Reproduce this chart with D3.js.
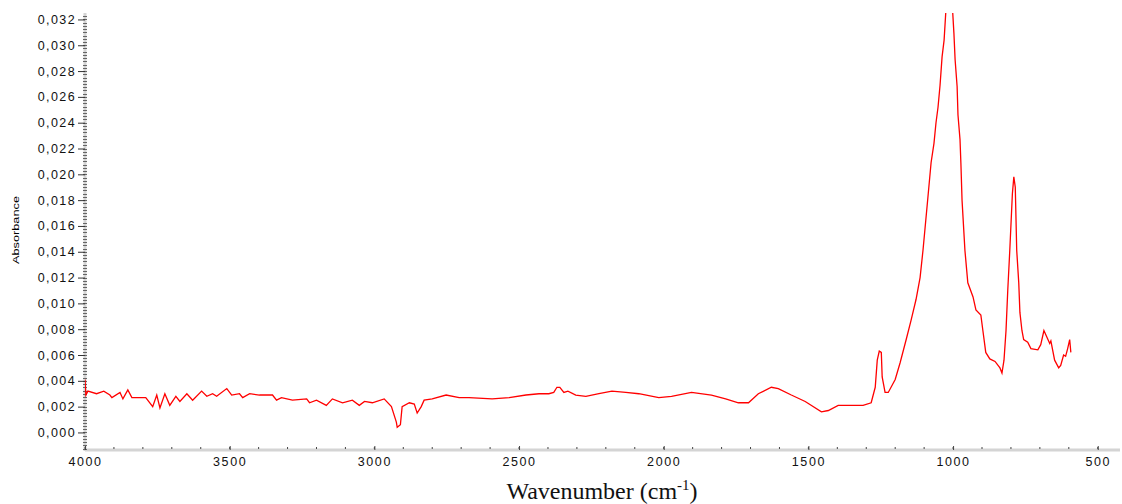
<!DOCTYPE html>
<html><head><meta charset="utf-8">
<script src="https://cdn.jsdelivr.net/npm/d3@7"></script>
<style>
body{margin:0;background:#fff;}
svg{display:block;}
</style></head>
<body><svg id="c" width="1122" height="504"></svg>
<script>
// Wavenumber (cm-1) and absorbance
const wavenumbers = [4000,3997,3990,3960,3935,3914,3907,3879,3869,3852,3838,3810,3790,3766,3752,3741,3724,3707,3686,3672,3648,3628,3597,3579,3559,3545,3510,3493,3466,3455,3431,3397,3352,3338,3321,3283,3234,3224,3200,3166,3145,3110,3076,3052,3034,3007,2966,2941,2924,2921,2910,2904,2879,2862,2852,2838,2828,2800,2752,2707,2673,2593,2534,2476,2431,2397,2380,2369,2359,2345,2331,2304,2269,2224,2179,2131,2086,2017,1973,1904,1835,1786,1742,1707,1673,1628,1604,1559,1511,1455,1431,1397,1338,1311,1283,1269,1262,1255,1248,1245,1235,1224,1200,1183,1162,1145,1128,1114,1104,1087,1076,1066,1059,1052,1045,1038,1031,1024,1015,1005,997,993,986,983,976,973,969,959,949,931,921,904,897,887,873,855,838,831,824,817,811,804,795,790,785,780,773,769,762,756,742,731,707,697,686,676,666,662,649,635,628,618,611,604,597,593];
const absorbance = [0.0041,0.0029,0.0032,0.0030,0.0032,0.0029,0.0027,0.0031,0.0026,0.0033,0.0027,0.0027,0.0027,0.0020,0.0029,0.0019,0.0030,0.0021,0.0028,0.0024,0.0030,0.0025,0.0032,0.0028,0.0030,0.0028,0.0034,0.0029,0.0030,0.0027,0.0030,0.0029,0.0029,0.0025,0.0027,0.0025,0.0026,0.0023,0.0025,0.0021,0.0026,0.0023,0.0025,0.0021,0.0024,0.0023,0.0026,0.0020,0.0008,0.0004,0.0006,0.0020,0.0023,0.0022,0.0015,0.0020,0.0025,0.0026,0.0029,0.0027,0.0027,0.0026,0.0027,0.0029,0.0030,0.0030,0.0031,0.0035,0.0035,0.0031,0.0032,0.0029,0.0028,0.0030,0.0032,0.0031,0.0030,0.0027,0.0028,0.0031,0.0029,0.0026,0.0023,0.0023,0.0030,0.0035,0.0034,0.0029,0.0024,0.0016,0.0017,0.0021,0.0021,0.0021,0.0023,0.0035,0.0056,0.0063,0.0062,0.0043,0.0031,0.0031,0.0041,0.0054,0.0072,0.0087,0.0103,0.0120,0.0141,0.0182,0.0209,0.0224,0.0240,0.0252,0.0269,0.0291,0.0304,0.0330,0.0360,0.0340,0.0309,0.0289,0.0268,0.0246,0.0227,0.0209,0.0180,0.0141,0.0116,0.0105,0.0095,0.0091,0.0079,0.0062,0.0057,0.0055,0.0050,0.0046,0.0056,0.0079,0.0110,0.0141,0.0185,0.0198,0.0190,0.0141,0.0116,0.0093,0.0079,0.0072,0.0070,0.0065,0.0064,0.0068,0.0079,0.0074,0.0069,0.0071,0.0056,0.0050,0.0052,0.0060,0.0059,0.0065,0.0072,0.0062];
const xTicks = [4000,3500,3000,2500,2000,1500,1000,500];
const yTicks = [0,0.002,0.004,0.006,0.008,0.010,0.012,0.014,0.016,0.018,0.020,0.022,0.024,0.026,0.028,0.030,0.032];

const svg = d3.select("#c");
const L = 85, R = 1118, T = 13, B = 450;
const x = d3.scaleLinear().domain([4000, 430]).range([L, R]);
const y = d3.scaleLinear().domain([-0.00136, 0.0325]).range([B, T]);
const fmt = v => d3.format(".3f")(v).replace(".", ",");

svg.append("defs").append("clipPath").attr("id","clip")
  .append("rect").attr("x",L).attr("y",T).attr("width",R-L).attr("height",B-T);

// axis lines (light grey)
svg.append("line").attr("x1",L).attr("x2",L).attr("y1",T).attr("y2",B+1)
  .attr("stroke","#d4d4d4").attr("stroke-width",3);
svg.append("line").attr("x1",L).attr("x2",R+2).attr("y1",B).attr("y2",B)
  .attr("stroke","#d4d4d4").attr("stroke-width",3);

// y minor ticks
const yMinor = d3.range(-0.00125, 0.0325, 0.00025);
svg.append("g").selectAll("line").data(yMinor).join("line")
  .attr("x1",L-2).attr("x2",L+2).attr("y1",d=>Math.round(y(d))+0.5).attr("y2",d=>Math.round(y(d))+0.5)
  .attr("stroke","#666").attr("stroke-width",1);

// y axis
const yAxis = d3.axisLeft(y).tickValues(yTicks).tickFormat(fmt).tickSize(7).tickPadding(2);
const gy = svg.append("g").attr("transform",`translate(${L},0)`).call(yAxis);
gy.select(".domain").remove();
gy.selectAll(".tick line").attr("stroke","#333");
gy.selectAll(".tick text").attr("font-family","Liberation Sans, Arial, sans-serif")
  .attr("font-size",12.5).attr("letter-spacing","1.4px").attr("fill","#111");

// x minor ticks
const xMinor = d3.range(4000, 430, -100);
svg.append("g").selectAll("line").data(xMinor).join("line")
  .attr("x1",d=>x(d)).attr("x2",d=>x(d)).attr("y1",B-3).attr("y2",B-1)
  .attr("stroke","#444").attr("stroke-width",1);

// x axis
const xAxis = d3.axisBottom(x).tickValues(xTicks).tickFormat(d3.format("d")).tickSize(3).tickPadding(4);
const gx = svg.append("g").attr("transform",`translate(0,${B})`).call(xAxis);
gx.select(".domain").remove();
gx.selectAll(".tick line").attr("stroke","#444").attr("y1",-4).attr("y2",0);
gx.selectAll(".tick text").attr("font-family","Liberation Sans, Arial, sans-serif")
  .attr("font-size",12.5).attr("letter-spacing","1.6px").attr("fill","#111");

// spectrum
const pts = wavenumbers.map((w,i)=>[w, absorbance[i]]);
svg.append("path").datum(pts).attr("clip-path","url(#clip)")
  .attr("fill","none").attr("stroke","#ff0000").attr("stroke-width",1.3)
  .attr("d", d3.line().x(d=>x(d[0])).y(d=>y(d[1])));

// y label
svg.append("text").attr("transform","translate(19,230) rotate(-90)")
  .attr("text-anchor","middle").attr("font-family","Liberation Sans Narrow, Liberation Sans, Arial, sans-serif")
  .attr("font-size",9).attr("textLength",68).attr("lengthAdjust","spacingAndGlyphs")
  .text("Absorbance");

// x title
const xt = svg.append("text").attr("x",602).attr("y",499).attr("text-anchor","middle")
  .attr("font-family","Liberation Serif, Times New Roman, serif").attr("font-size",24).attr("fill","#111");
xt.append("tspan").text("Wavenumber (cm");
xt.append("tspan").attr("dy",-9).attr("font-size",15).text("-1");
xt.append("tspan").attr("dy",9).text(")");
</script></body></html>
